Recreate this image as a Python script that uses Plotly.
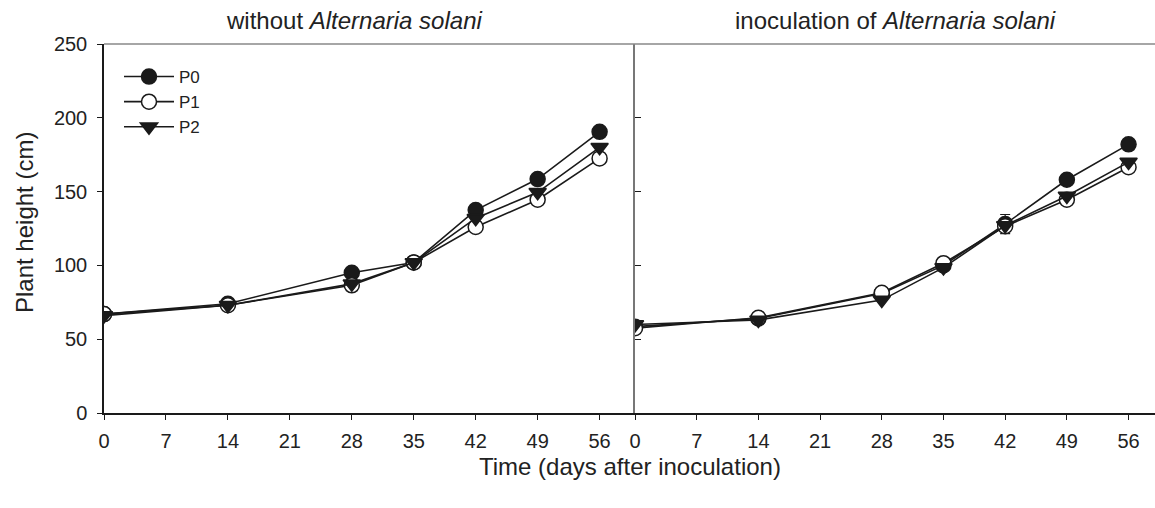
import plotly.graph_objects as go

days = [0, 14, 28, 35, 42, 49, 56]
tick_vals = [0, 7, 14, 21, 28, 35, 42, 49, 56]
y_ticks = [0, 50, 100, 150, 200, 250]

# without Alternaria solani
left_p0 = [67, 74, 95, 102, 137.5, 158.5, 190.5]
left_p1 = [67, 73, 86.5, 102, 126, 144.5, 172.5]
left_p2 = [66, 73, 87.5, 102, 132, 149.5, 180]

# inoculation of Alternaria solani
right_p0 = [58.5, 64, 81, 100, 128, 158, 182]
right_p1 = [57.5, 64.5, 81.5, 101.5, 126.5, 144.5, 166.5]
right_p2 = [60, 63, 76.5, 98.5, 127, 147, 170]
right_p0_err = [0, 0, 0, 0, 6.5, 0, 0]

W, H = 1155, 508
L, R, T, B = 104, 0, 44, 95
pw = W - L - R
ph = H - T - B
sep = 635
split = (sep - L) / pw

def px(x):
    return (x - L) / pw

def py(y):
    return (H - B - y) / ph

FONT = "Liberation Sans, Arial, sans-serif"
TXT = "#222222"

styles = {
    "P0": dict(symbol="circle", size=15, color="#1a1a1a", line=dict(color="#1a1a1a", width=1.5)),
    "P1": dict(symbol="circle", size=15, color="white", line=dict(color="#1a1a1a", width=1.5)),
    "P2": dict(symbol="triangle-down", size=15, color="#1a1a1a", line=dict(color="#1a1a1a", width=1.5)),
}

fig = go.Figure()
for name, ys in [("P0", left_p0), ("P1", left_p1), ("P2", left_p2)]:
    fig.add_trace(go.Scatter(x=days, y=ys, name=name, mode="lines+markers",
                             line=dict(color="#1a1a1a", width=1.6),
                             marker=styles[name], xaxis="x", yaxis="y",
                             showlegend=True))
for name, ys in [("P0", right_p0), ("P1", right_p1), ("P2", right_p2)]:
    err = dict(type="data", array=right_p0_err, visible=True, color="#1a1a1a",
               thickness=1.2, width=5) if name == "P0" else None
    fig.add_trace(go.Scatter(x=days, y=ys, name=name, mode="lines+markers",
                             line=dict(color="#1a1a1a", width=1.6),
                             marker=styles[name], xaxis="x2", yaxis="y2",
                             error_y=err, showlegend=False))

axis_common = dict(showgrid=False, zeroline=False, ticks="outside", ticklen=5,
                   tickcolor="#1a1a1a", tickfont=dict(family=FONT, size=20, color=TXT),
                   showline=True, linecolor="#1a1a1a", linewidth=1.5)

fig.update_layout(
    width=W, height=H,
    margin=dict(l=L, r=R, t=T, b=B, pad=0),
    paper_bgcolor="white", plot_bgcolor="white",
    font=dict(family=FONT, color=TXT),
    xaxis=dict(domain=[0, split], range=[0, 60], tickvals=tick_vals,
               ticklabelstandoff=4, **axis_common),
    xaxis2=dict(domain=[split, 1], range=[0, 59.0], tickvals=tick_vals, anchor="y2",
                ticklabelstandoff=4, **axis_common),
    yaxis=dict(range=[0, 250], tickvals=y_ticks, anchor="x", ticklabelstandoff=6, **axis_common),
    yaxis2=dict(range=[0, 250], tickvals=y_ticks, anchor="x2", showticklabels=False,
                showgrid=False, zeroline=False, ticks="inside", ticklen=6,
                tickcolor="#1a1a1a", showline=True, linecolor="#777777", linewidth=1.5),
    showlegend=True,
    legend=dict(x=px(119), y=py(59), xanchor="left", yanchor="top",
                bgcolor="rgba(0,0,0,0)", borderwidth=0, itemwidth=50,
                font=dict(family=FONT, size=17, color=TXT), tracegroupgap=0),
    shapes=[dict(type="line", xref="paper", yref="paper", x0=0, x1=1, y0=1, y1=1,
                 line=dict(color="#888888", width=1.5))],
    annotations=[
        dict(text="without <i>Alternaria solani</i>", x=px(354), y=py(20), xref="paper", yref="paper",
             showarrow=False, xanchor="center", yanchor="middle",
             font=dict(family=FONT, size=24, color=TXT)),
        dict(text="inoculation of <i>Alternaria solani</i>", x=px(895), y=py(20), xref="paper", yref="paper",
             showarrow=False, xanchor="center", yanchor="middle",
             font=dict(family=FONT, size=24, color=TXT)),
        dict(text="Time (days after inoculation)", x=px(630), y=py(467), xref="paper", yref="paper",
             showarrow=False, xanchor="center", yanchor="middle",
             font=dict(family=FONT, size=24, color=TXT)),
        dict(text="Plant height (cm)", x=px(24), y=py(223), xref="paper", yref="paper",
             showarrow=False, xanchor="center", yanchor="middle", textangle=-90,
             font=dict(family=FONT, size=24, color=TXT)),
    ],
)

fig.write_html("out.html")
